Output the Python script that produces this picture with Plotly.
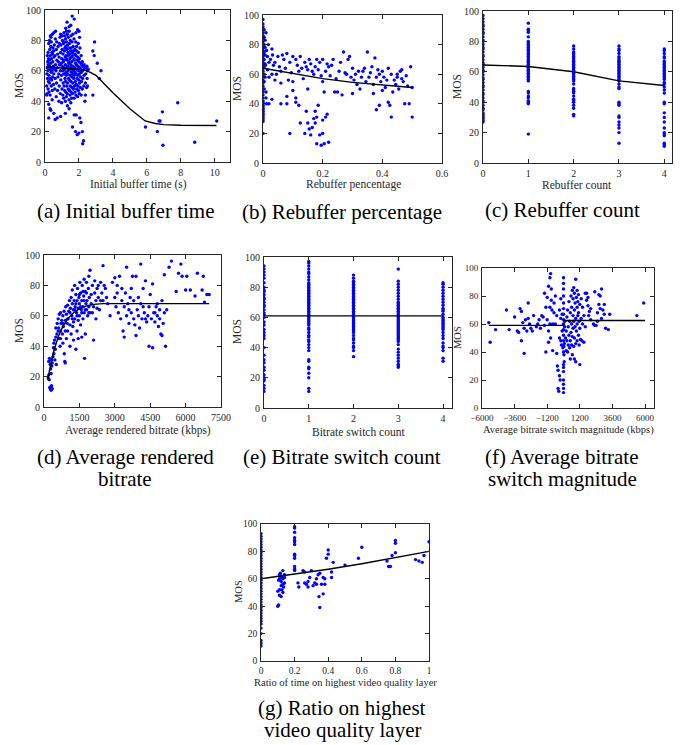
import plotly.graph_objects as go

W, H = 681, 745
FONT = "Liberation Serif, Times New Roman, Times, serif"
BLUE = "#0000ff"

# ---------------- data ----------------
# (a) Initial buffer time (s) vs MOS
a_pts = [(0.12,45),(0.1,50),(0.15,55),(0.11,58),(0.13,62),(0.16,66),(0.14,70),(0.1,44),
(0.18,48),(0.2,53),(0.17,60),(0.19,64),(0.21,68),(0.18,72),(0.22,78),
(0.24,46),(0.26,52),(0.23,57),(0.27,63),(0.25,67),(0.28,74),(0.26,80),(0.22,38),
(0.3,44),(0.32,55),(0.29,61),(0.33,65),(0.31,70),(0.34,76),(0.35,82),
(0.37,50),(0.39,54),(0.36,59),(0.4,62),(0.38,68),(0.41,72),(0.37,79),
(0.43,47),(0.45,56),(0.42,60),(0.46,66),(0.44,71),(0.47,75),(0.43,84),
(0.5,51),(0.52,58),(0.49,63),(0.53,69),(0.51,73),(0.55,77),
(0.58,48),(0.6,55),(0.57,61),(0.62,64),(0.59,70),(0.61,81),
(0.66,43),(0.68,52),(0.65,60),(0.7,67),(0.67,74),(0.69,79),
(0.74,47),(0.76,56),(0.73,62),(0.78,66),(0.75,71),(0.77,76),
(0.82,40),(0.84,50),(0.81,58),(0.86,64),(0.83,69),(0.85,78),(0.88,82),
(0.9,45),(0.93,54),(0.91,60),(0.95,65),(0.92,72),(0.94,77),
(0.98,39),(1.0,48),(0.97,57),(1.02,63),(0.99,68),(1.01,74),(1.03,80),
(1.05,44),(1.07,52),(1.04,60),(1.08,66),(1.06,71),(1.09,78),
(1.1,42),(1.12,50),(1.11,58),(1.13,62),(1.1,67),(1.14,73),(1.12,79),
(1.16,47),(1.18,55),(1.15,61),(1.19,69),(1.17,75),(1.18,83),
(1.2,40),(1.22,46),(1.21,53),(1.23,59),(1.2,64),(1.24,70),(1.22,76),(1.21,81),
(1.26,43),(1.28,50),(1.25,57),(1.29,62),(1.27,68),(1.3,74),(1.26,79),
(1.31,45),(1.33,52),(1.32,58),(1.34,63),(1.3,67),(1.35,72),(1.33,77),(1.32,84),
(1.37,48),(1.39,55),(1.36,60),(1.4,65),(1.38,70),(1.41,75),(1.37,82),
(1.42,41),(1.44,47),(1.43,54),(1.45,61),(1.42,66),(1.46,71),(1.44,78),(1.43,86),
(1.47,44),(1.49,50),(1.48,57),(1.5,62),(1.47,68),(1.51,73),(1.49,80),
(1.52,39),(1.54,46),(1.53,53),(1.55,59),(1.52,64),(1.56,69),(1.54,75),(1.53,83),
(1.57,42),(1.59,49),(1.58,56),(1.6,61),(1.57,66),(1.61,72),(1.59,79),
(1.62,45),(1.64,52),(1.63,58),(1.65,63),(1.62,70),(1.66,76),(1.64,84),
(1.67,48),(1.69,55),(1.68,60),(1.7,67),(1.67,73),(1.71,81),
(1.72,42),(1.74,50),(1.73,57),(1.75,62),(1.72,68),(1.76,74),
(1.77,46),(1.79,53),(1.78,59),(1.8,65),(1.77,71),(1.81,79),
(1.82,44),(1.84,51),(1.83,58),(1.85,64),(1.82,70),(1.86,76),
(1.87,48),(1.89,55),(1.88,61),(1.9,67),(1.87,73),
(1.92,43),(1.94,50),(1.93,57),(1.95,63),(1.92,69),(1.96,78),
(1.97,47),(1.99,54),(1.98,60),(2.0,66),(1.97,72),
(2.02,45),(2.04,52),(2.03,58),(2.05,62),(2.02,68),(2.06,75),(2.04,82),
(2.08,49),(2.1,56),(2.09,61),(2.11,65),
(2.13,44),(2.15,53),(2.14,59),(2.16,64),(2.13,70),
(2.2,48),(2.22,55),(2.21,60),(2.23,63),(2.2,66),
(2.28,50),(2.3,57),(2.29,61),(2.31,64),
(2.38,52),(2.4,58),(2.39,62),
(2.48,55),(2.5,60),(2.47,63),(2.45,49),
(1.62,23),(1.8,20),(1.9,18),(2.0,19),(2.22,12),(2.27,14),(2.12,26),(2.2,20),(1.72,31),(1.84,31),
(2.05,29),(0.22,29),(0.3,35),(0.34,34),(0.6,28),(0.72,29),(0.92,30),(1.2,32),(1.32,37),(1.42,35),
(2.35,40),(0.52,32),(0.42,41),
(1.6,96),(1.72,94),(1.3,92),(1.42,89),(1.22,88),(1.52,90),(1.92,87),(2.0,86),(0.62,86),(0.52,85),
(0.32,83),(0.92,84),(1.02,83),(1.12,85),(1.27,86),(1.82,85),
(2.82,73),(2.92,79),(2.9,70),(3.08,65),(3.2,55),(3.3,60),(2.82,44),(5.92,23),(6.62,20),(6.72,27),
(6.78,27),(6.92,33),(6.95,11),(7.82,39),(8.82,13),(10.12,27),(2.55,61),(2.5,50),(2.38,44)]
a_fit_x = [0.1, 1, 2, 2.5, 3, 4, 5, 5.9, 6.5, 7, 8, 10.1]
a_fit_y = [62.5, 62, 61, 60, 57, 45.5, 35, 27, 25.3, 24.6, 24.2, 24]

# (b) Rebuffer percentage vs MOS
b_zero_y = [20,28,29,30,31,32,33,34,35,36,37,38,39,40,41,42,44,46,48,50,52,54,56,58,60,62,64,66,68,
            70,72,74,76,78,80,82,84,86,88,90,92,94,97]
b_pts = [(0.004,50),(0.004,55),(0.004,60),(0.004,65),(0.004,70),(0.004,75),(0.004,80),(0.004,85),(0.004,90),
(0.007,58),(0.007,67),(0.007,73),(0.007,78),(0.007,83),
(0.01,88),(0.012,76),(0.015,72),(0.02,68),(0.02,58),(0.01,48),(0.012,40),(0.008,66),(0.015,63),(0.018,80),
(0.025,70),(0.03,77),(0.032,73),(0.035,66),(0.04,68),(0.04,56),(0.045,60),(0.05,72),(0.055,65),(0.06,62),
(0.06,54),(0.065,73),(0.07,70),(0.075,64),(0.08,74),(0.08,45),(0.085,56),(0.09,68),(0.095,61),(0.1,72),
(0.1,49),(0.11,70),(0.11,44),(0.115,66),(0.12,62),(0.125,72),(0.13,64),(0.135,57),(0.14,68),(0.145,65),
(0.15,63),(0.155,70),(0.16,67),(0.165,62),(0.17,60),(0.175,65),(0.18,70),(0.185,63),(0.19,68),(0.195,59),
(0.2,70),(0.2,55),(0.205,48),(0.21,62),(0.215,67),(0.22,65),(0.225,59),(0.23,66),(0.235,70),(0.24,48),
(0.245,57),(0.25,48),(0.255,62),(0.26,68),(0.265,46),(0.27,75),(0.275,61),(0.28,60),(0.285,70),(0.29,72),
(0.295,58),(0.3,64),(0.3,47),(0.305,56),(0.31,60),(0.315,53),(0.32,62),(0.325,50),(0.33,58),(0.335,62),
(0.34,64),(0.345,55),(0.35,75),(0.355,58),(0.36,61),(0.365,65),(0.37,47),(0.37,53),(0.375,71),(0.38,36),
(0.38,58),(0.385,63),(0.39,39),(0.39,60),(0.395,55),(0.4,62),(0.4,49),(0.405,58),(0.41,51),(0.415,56),
(0.42,64),(0.42,41),(0.425,39),(0.43,31),(0.43,60),(0.435,48),(0.44,56),(0.445,53),(0.45,58),(0.455,50),
(0.46,62),(0.465,57),(0.47,55),(0.475,40),(0.48,59),(0.485,52),(0.49,40),(0.495,65),(0.5,31),(0.5,51),
(0.465,63),(0.45,60),
(0.03,43),(0.06,40),(0.09,20),(0.125,27),(0.14,20),(0.15,27),(0.155,23),(0.16,19),(0.165,24),(0.17,30),
(0.175,27),(0.18,13),(0.18,31),(0.185,39),(0.19,19),(0.195,12),(0.2,20),(0.205,13),(0.21,31),(0.215,33),
(0.22,14),(0.2,29),(0.175,35),(0.145,35),(0.12,39),(0.1,55),(0.11,41),(0.15,50),(0.08,40),(0.03,60),
(0.02,40),(0.01,44)]
b_fit_x = [0, 0.1, 0.2, 0.3, 0.4, 0.5]
b_fit_y = [64, 60.5, 57, 54.5, 52.5, 51]

# (c) Rebuffer count vs MOS
c_counts = [0, 1, 2, 3, 4]
c_values = [
    [27,28,29,30,31,32,33,35,36,38,40,41,43,45,46,48,50,51,53,55,56,58,60,61,63,65,66,68,70,71,73,75,
     76,78,80,81,83,85,86,88,90,91,93,95,97],
    [19,39,40,41,43,44,46,47,54,55,56,57,58,59,60,61,62,63,64,65,66,67,68,69,70,71,72,73,74,75,76,77,
     78,79,80,83,86,87,88,92],
    [31,32,36,38,40,41,42,44,46,47,48,49,52,54,55,56,57,58,59,60,61,62,63,64,65,66,67,68,69,70,71,72,
     73,75,77],
    [13,20,23,25,27,30,31,38,39,40,49,50,52,54,55,56,57,58,59,60,61,62,63,64,65,66,67,68,69,70,72,74,
     75,77],
    [11,12,13,18,19,20,23,27,30,33,39,40,46,48,50,52,53,55,56,57,58,59,60,61,62,63,64,65,66,67,69,70,
     72,74,75],
]
c_fit_x = [0, 1, 2, 3, 4]
c_fit_y = [64.5, 63.5, 60, 54, 51]

# (d) Average rendered bitrate (kbps) vs MOS
d_pts = [(180,19),(200,21),(220,18),(250,13),(260,12),(300,11),(320,14),(350,12),(200,30),(230,32),
(260,28),(280,25),(300,22),(310,31),(330,27),(350,29),(380,33),(400,39),(420,42),(450,44),(420,35),
(460,31),(480,38),(500,46),(500,52),(520,28),(550,48),(560,55),(600,58),(620,52),(650,61),(650,45),
(680,40),(700,62),(700,50),(720,55),(750,57),(780,48),(800,60),(800,42),(820,53),(850,63),(860,35),
(880,30),(900,29),(900,57),(920,66),(950,61),(950,45),(980,55),(1000,67),(1000,50),(1020,58),(1050,63),
(1080,70),(1100,54),(1100,40),(1120,65),(1150,72),(1150,48),(1180,60),(1200,68),(1200,77),(1220,53),
(1250,64),(1250,44),(1280,70),(1300,80),(1300,58),(1320,66),(1350,74),(1350,38),(1380,62),(1400,70),
(1400,50),(1420,78),(1450,65),(1450,45),(1480,72),(1500,68),(1500,60),(1520,82),(1550,75),(1550,54),
(1580,64),(1600,70),(1600,46),(1620,80),(1650,66),(1650,58),(1680,73),(1700,84),(1700,62),(1720,32),
(1750,76),(1750,48),(1780,68),(1800,64),(1800,82),(1820,70),(1850,60),(1880,78),(1900,86),(1900,66),
(1920,72),(1950,90),(1950,62),(2000,74),(2000,68),(2050,80),(2100,44),(2100,66),(2150,83),(2200,70),
(2200,58),(2250,78),(2300,72),(2350,64),(2400,82),(2500,93),(2500,70),(2600,78),(2700,68),(2800,60),
(2900,82),(3000,85),(3000,72),(3050,66),(3100,80),(3150,62),(3200,86),(3250,58),(3300,70),(3350,50),
(3400,46),(3400,66),(3450,75),(3500,92),(3500,60),(3550,68),(3600,55),(3650,72),(3700,62),(3750,86),
(3800,58),(3800,70),(3850,54),(3900,86),(3900,47),(3950,64),(4000,60),(4050,52),(4100,94),(4100,68),
(4150,58),(4200,78),(4250,62),(4300,83),(4350,56),(4400,60),(4450,40),(4450,66),(4500,74),(4550,58),
(4600,81),(4600,39),(4650,62),(4700,56),(4750,66),(4800,60),(4850,53),(4900,64),(4950,48),(5000,70),
(5050,55),(5100,87),(5150,40),(5200,64),(5300,92),(5400,96),(5600,76),(5700,88),(5800,94),(5850,86),
(6000,77),(6050,86),(6200,77),(6400,73),(6500,88),(6700,77),(6750,86),(6800,69),(6900,74),(7000,74),
(2050,62),(2150,75),(2250,65),(2300,80),(2400,70),(2450,75),(2550,80),(2650,72),(3100,75),(3300,78),
(3600,64),(3700,78),(4000,72),(4200,66),(4300,58),(4700,62),(4800,68),(4900,58),(5000,47),(5100,62),
(1100,62),(1200,58),(1300,64),(1400,60),(1500,74),(1600,62),(1700,70),(1800,75),(1900,62),(1000,58),
(900,50),(800,55),(700,45),(600,50),(1250,56),(1350,68),(1450,57),(1550,66),(1650,76),(1750,64)]
d_fit_x = [150, 250, 400, 600, 800, 1000, 1250, 1500, 1800, 2100, 2500, 3000, 7000]
d_fit_y = [18, 26, 36, 46, 53, 58, 62, 64.5, 66.5, 67.5, 68, 68, 68]

# (e) Bitrate switch count vs MOS
e_counts = [0, 1, 2, 3, 4]
e_values = [
    [11,13,15,18,19,20,22,25,27,30,32,35,40,46,48,50,52,55,57,60,62,63,65,67,68,70,72,73,75,77,78,80,
     83,86,88,90,92,94],
    [11,13,20,23,26,27,31,32,38,40,42,44,45,47,48,50,52,53,55,56,57,58,59,60,61,62,63,64,65,66,67,68,
     69,70,71,72,73,74,75,76,77,78,79,80,81,82,83,85,87,89,90,92,94,96,97],
    [34,38,40,41,43,45,46,48,50,51,52,53,54,55,56,57,58,59,60,61,62,63,64,65,66,67,68,69,70,71,72,73,
     74,75,76,77,78,79,80,81,82,83,84,86,88],
    [27,28,29,31,33,35,37,39,42,44,45,46,47,48,49,50,51,52,53,54,55,56,57,58,59,60,61,62,63,64,65,66,
     67,68,69,70,72,74,76,78,80,82,84,92],
    [31,33,38,40,41,43,46,48,50,52,53,54,55,56,57,58,59,60,62,64,65,66,68,70,72,74,76,78,80,82,83],
]
e_fit_x = [0, 4]
e_fit_y = [61, 61]

# (f) Average bitrate switch magnitude (kbps) vs MOS
f_pts = [(-5500,61),(-5400,47),(-5000,56),(-4200,70),(-4000,56),(-3600,65),(-3400,55),(-3300,54),
(-3200,71),(-3100,69),(-3100,48),(-3000,61),(-2900,39),(-2900,57),(-2800,63),(-2700,55),(-2600,75),
(-2600,64),(-2500,60),(-2400,57),(-2300,55),(-2200,66),(-2000,58),(-1900,60),(-1800,63),(-1700,57),
(-1600,66),(-1500,65),(-1400,82),(-1400,59),(-1300,72),(-1300,40),(-1200,79),(-1200,63),(-1100,87),
(-1100,55),(-1100,47),(-1000,93),(-1000,60),(-1000,72),(-950,96),(-950,50),(-900,77),(-900,85),
(-850,70),(-800,60),(-800,41),(-700,68),(-700,75),(-600,80),(-600,60),(-500,66),(-500,39),(-450,30),
(-400,27),(-400,14),(-350,12),(-300,70),(-300,50),(-300,23),(-250,20),(-200,78),(-200,64),(-200,48),
(-150,45),(-100,67),(-100,55),(-50,43),
(0,11),(0,14),(0,17),(0,20),(0,26),(0,29),(0,31),(0,40),(0,48),(0,52),(0,56),(0,60),(0,63),(0,67),
(0,71),(0,75),(0,80),(0,85),(0,89),(0,93),(30,38),(30,44),(50,33),(60,46),(80,58),(100,62),
(150,50),(200,41),(200,55),(250,48),(250,65),(300,40),(300,70),(350,45),(350,58),(400,52),(400,76),
(450,43),(450,62),(500,48),(500,68),(500,35),(550,54),(550,80),(600,45),(600,60),(600,72),(650,38),
(650,51),(650,84),(700,57),(700,66),(700,78),(750,44),(750,62),(750,86),(800,50),(800,70),(800,82),
(800,35),(850,58),(850,75),(900,46),(900,64),(900,92),(900,33),(950,55),(950,79),(1000,60),(1000,72),
(1000,84),(1000,48),(1050,66),(1050,76),(1100,52),(1100,68),(1100,81),(1150,45),(1150,62),(1200,74),
(1200,31),(1200,57),(1250,49),(1300,64),(1300,78),(1350,48),(1400,60),(1400,72),
(1600,82),(1700,82),(1700,77),(1800,79),(1800,73),(1850,66),(1900,69),(2000,63),(2200,60),(2300,59),
(2300,83),(2400,59),(2500,62),(2600,74),(2600,81),(2700,80),(2700,71),(2800,64),(2800,85),(2900,70),
(3000,74),(3000,67),(3100,57),(3300,56),(3400,67),(5400,66),(5900,75),(2500,68),(2000,71),(1500,47),
(1500,66),(1600,58)]
f_fit_x = [-5500, 0, None, 0, 6000]
f_fit_y = [59, 59, None, 62.5, 62.5]

# (g) Ratio of time on highest video quality layer vs MOS
g_zero_y = [11,13,15,20,24,27,29,31,33,35,37,39,41,43,45,47,49,51,53,55,57,59,61,63,65,67,69,71,73,
            75,77,79,81,83,85,87,89,91,93]
g_02_y = [66,67,69,75,77,78,85,87,88,90,94,97,98]
g_pts = [(0.1,40),(0.105,41),(0.1,51),(0.11,48),(0.11,52),(0.12,47),(0.105,59),(0.11,60),(0.11,63),
(0.12,55),(0.12,58),(0.12,62),(0.125,52),(0.13,50),(0.13,56),(0.13,60),(0.13,66),(0.135,54),(0.14,57),
(0.14,61),(0.14,63),(0.115,64),(0.125,61),
(0.25,66),(0.26,65),(0.22,57),(0.225,54),(0.26,57),(0.27,56),(0.28,54),(0.28,58),(0.29,61),(0.3,66),
(0.31,55),(0.32,57),(0.33,60),(0.34,63),(0.345,47),(0.35,39),(0.35,64),(0.36,56),(0.37,49),(0.37,61),
(0.38,56),(0.38,60),(0.39,75),(0.4,78),(0.4,81),(0.42,61),(0.42,65),(0.43,72),(0.5,70),(0.58,75),
(0.6,83),(0.75,73),(0.76,69),(0.77,69),(0.78,77),(0.8,79),(0.8,86),(0.8,88),(0.92,74),(0.94,73),
(0.96,72),(0.97,77),(1.0,87),(0.33,56)]
g_fit_x = [0, 0.2, 0.4, 0.6, 0.8, 1]
g_fit_y = [60, 63.3, 67, 71, 75.5, 80]

# ---------------- assemble per panel ----------------
def unzip(pts):
    return [p[0] for p in pts], [p[1] for p in pts]

a_x, a_y = unzip(a_pts)
b_x, b_y = unzip(b_pts)
b_x = [0] * len(b_zero_y) + b_x
b_y = b_zero_y + b_y
c_x = [c for c, vals in zip(c_counts, c_values) for _ in vals]
c_y = [v for vals in c_values for v in vals]
d_x, d_y = unzip(d_pts)
e_x = [c for c, vals in zip(e_counts, e_values) for _ in vals]
e_y = [v for vals in e_values for v in vals]
f_x, f_y = unzip(f_pts)
g_x, g_y = unzip(g_pts)
g_x = [0] * len(g_zero_y) + [0.2] * len(g_02_y) + g_x
g_y = g_zero_y + g_02_y + g_y

# panel geometry in pixels: (left, right, top, bottom), x range, x ticks, font sizes
panels = [
    dict(px=(45, 230, 10, 162), xr=[0, 10.9], tv=[0, 2, 4, 6, 8, 10], tt=None, fs=10, ts=11.5,
         x=a_x, y=a_y, fx=a_fit_x, fy=a_fit_y,
         xtitle="Initial buffer time (s)", xt=(138, 184), mos=(19, 86),
         cap=["(a) Initial buffer time"], cap_xy=(125, 211)),
    dict(px=(263, 442, 15, 163), xr=[0, 0.6], tv=[0, 0.2, 0.4, 0.6], tt=["0", "0.2", "0.4", "0.6"], fs=10, ts=11.5,
         x=b_x, y=b_y, fx=b_fit_x, fy=b_fit_y,
         xtitle="Rebuffer pencentage", xt=(353, 184), mos=(237, 89),
         cap=["(b) Rebuffer percentage"], cap_xy=(342, 212)),
    dict(px=(483, 672, 11, 163), xr=[0, 4.17], tv=[0, 1, 2, 3, 4], tt=None, fs=10, ts=11.5,
         x=c_x, y=c_y, fx=c_fit_x, fy=c_fit_y,
         xtitle="Rebuffer count", xt=(577, 185), mos=(457, 87),
         cap=["(c) Rebuffer count"], cap_xy=(562, 210)),
    dict(px=(44, 221, 255, 407), xr=[0, 7500], tv=[0, 1500, 3000, 4500, 6000, 7500], tt=None, fs=10, ts=11.5,
         x=d_x, y=d_y, fx=d_fit_x, fy=d_fit_y,
         xtitle="Average rendered bitrate (kbps)", xt=(138, 430), mos=(19, 331),
         cap=["(d) Average rendered", "bitrate"], cap_xy=(125, 457)),
    dict(px=(264, 452, 257, 408), xr=[0, 4.2], tv=[0, 1, 2, 3, 4], tt=None, fs=10, ts=11.5,
         x=e_x, y=e_y, fx=e_fit_x, fy=e_fit_y,
         xtitle="Bitrate switch count", xt=(358, 432), mos=(237, 332),
         cap=["(e) Bitrate switch count"], cap_xy=(342, 457)),
    dict(px=(482, 654, 268, 408), xr=[-6000, 6660], tv=[-6000, -3600, -1200, 1200, 3600, 6000], tt=None, fs=9, ts=10.5,
         x=f_x, y=f_y, fx=f_fit_x, fy=f_fit_y,
         xtitle="Average bitrate switch magnitude (kbps)", xt=(568, 430), mos=(457, 338),
         cap=["(f) Average bitrate", "switch magnitude"], cap_xy=(562, 457)),
    dict(px=(261, 429, 524, 661), xr=[0, 1], tv=[0, 0.2, 0.4, 0.6, 0.8, 1], tt=["0", "0.2", "0.4", "0.6", "0.8", "1"], fs=9.5, ts=10.5,
         x=g_x, y=g_y, fx=g_fit_x, fy=g_fit_y,
         xtitle="Ratio of time on highest video quality layer", xt=(346, 682), mos=(238, 592),
         cap=["(g) Ratio on highest", "video quality layer"], cap_xy=(342, 708)),
]

fig = go.Figure()
layout = dict(width=W, height=H, margin=dict(l=0, r=0, t=0, b=0, autoexpand=False),
              paper_bgcolor="white", plot_bgcolor="white", showlegend=False)
annotations = []

AX = "#262626"
for i, p in enumerate(panels):
    n = "" if i == 0 else str(i + 1)
    l, r, t, b = p["px"]
    common = dict(showline=True, linecolor=AX, linewidth=0.8, mirror="ticks", ticks="inside",
                  ticklen=4, tickwidth=0.6, tickcolor=AX, showgrid=False, zeroline=False,
                  automargin=False, ticklabelstandoff=1,
                  tickfont=dict(family=FONT, size=p["fs"], color=AX))
    xa = dict(common, domain=[l / W, r / W], range=p["xr"], tickvals=p["tv"],
              anchor="y" + n)
    if p["tt"]:
        xa["ticktext"] = p["tt"]
    ya = dict(common, domain=[1 - b / H, 1 - t / H], range=[0, 100],
              tickvals=[0, 20, 40, 60, 80, 100], anchor="x" + n)
    layout["xaxis" + n] = xa
    layout["yaxis" + n] = ya
    fig.add_trace(go.Scatter(x=p["x"], y=p["y"], mode="markers", xaxis="x" + n, yaxis="y" + n,
                             marker=dict(color=BLUE, size=3.4, line=dict(width=0)), cliponaxis=True))
    fig.add_trace(go.Scatter(x=p["fx"], y=p["fy"], mode="lines", xaxis="x" + n, yaxis="y" + n,
                             line=dict(color="black", width=1.4)))
    annotations.append(dict(text=p["xtitle"], x=p["xt"][0] / W, y=1 - p["xt"][1] / H,
                            xref="paper", yref="paper", showarrow=False, xanchor="center", yanchor="middle",
                            font=dict(family=FONT, size=p["ts"], color=AX)))
    annotations.append(dict(text="MOS", x=p["mos"][0] / W, y=1 - p["mos"][1] / H, textangle=-90,
                            xref="paper", yref="paper", showarrow=False, xanchor="center", yanchor="middle",
                            font=dict(family=FONT, size=p["ts"], color=AX)))
    cx, cy = p["cap_xy"]
    for k, line in enumerate(p["cap"]):
        annotations.append(dict(text=line, x=cx / W, y=1 - (cy + 22 * k) / H,
                                xref="paper", yref="paper", showarrow=False,
                                xanchor="center", yanchor="middle",
                                font=dict(family=FONT, size=21, color="black")))

layout["annotations"] = annotations
fig.update_layout(**layout)
fig.write_html("out.html", config={"displayModeBar": False},
               post_script="document.body.style.margin='0';document.body.style.overflow='hidden';")
